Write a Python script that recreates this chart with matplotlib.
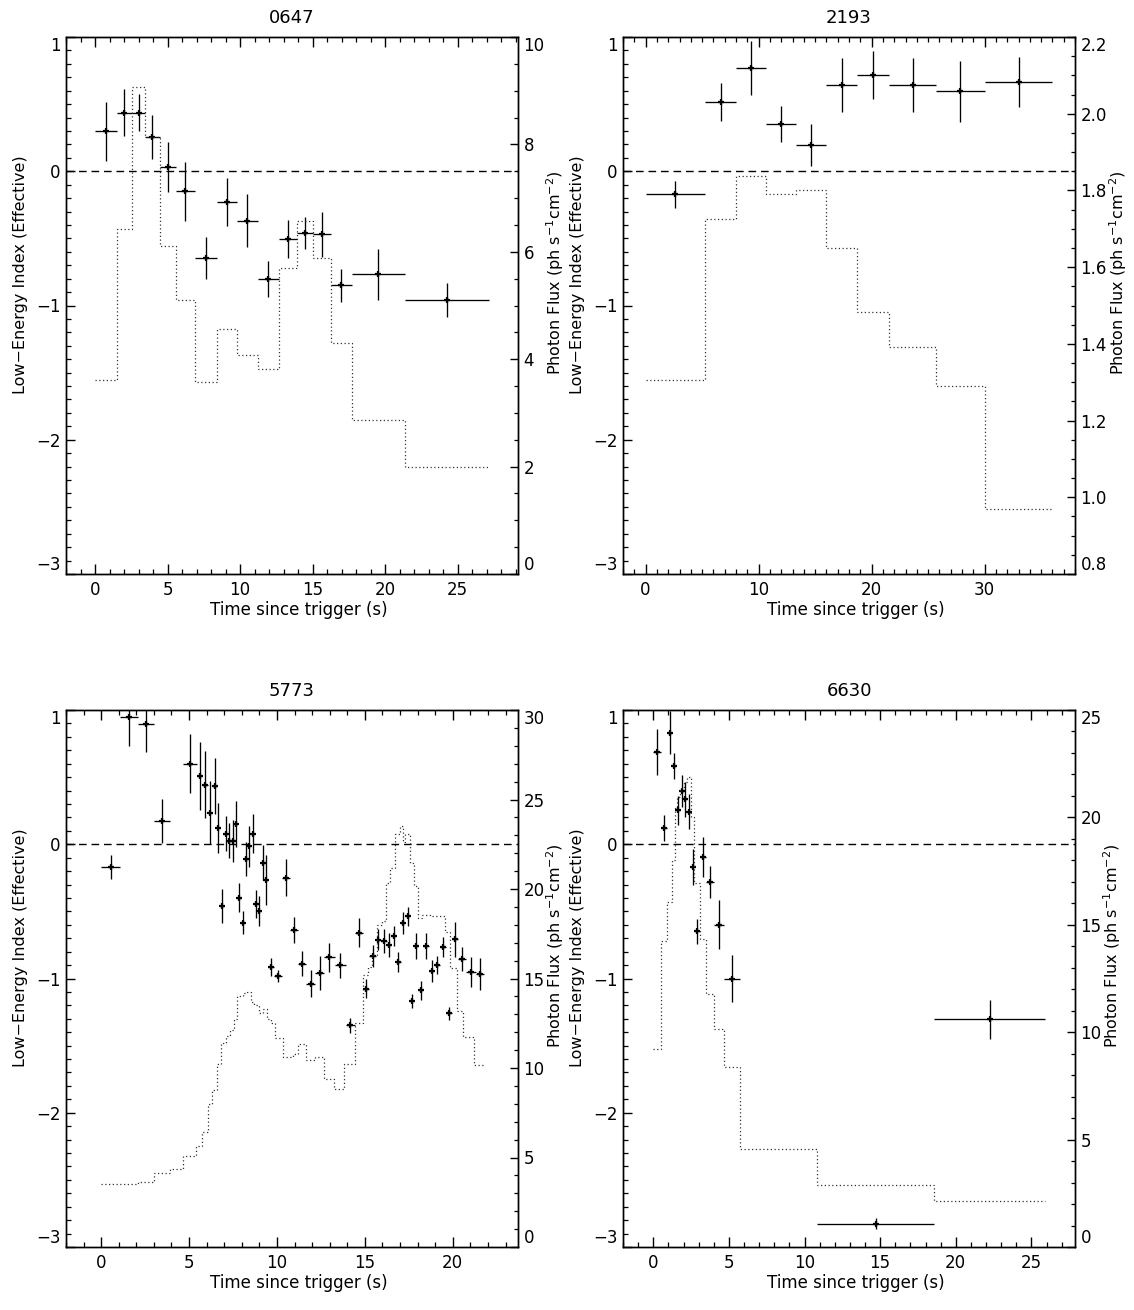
import numpy as np
import matplotlib
matplotlib.use("Agg")
import matplotlib.pyplot as plt
from matplotlib.ticker import MultipleLocator

plt.rcParams["font.family"] = ["DejaVu Sans"]
plt.rcParams["axes.linewidth"] = 1.0

# ---------------- 0647 ----------------
edges_0647 = [0, 1.51, 2.55, 3.47, 4.45, 5.55, 6.86, 8.40, 9.77, 11.22, 12.66,
              13.90, 15.05, 16.27, 17.71, 21.36, 27.16]
flux_0647 = [3.62, 6.42, 9.06, 8.13, 6.11, 5.11, 3.57, 4.57, 4.07, 3.82, 5.70,
             6.57, 5.88, 4.30, 2.87, 1.99]
index_0647 = [0.298, 0.435, 0.435, 0.253, 0.03, -0.149, -0.645, -0.228, -0.367,
              -0.806, -0.504, -0.459, -0.471, -0.849, -0.769, -0.96]
index_err_0647 = [0.22, 0.175, 0.137, 0.165, 0.186, 0.218, 0.156, 0.18, 0.195,
                  0.134, 0.142, 0.118, 0.165, 0.124, 0.19, 0.124]

# ---------------- 2193 ----------------
edges_2193 = [0, 5.27, 7.99, 10.62, 13.27, 15.96, 18.73, 21.56, 25.69, 30.03, 36.0]
flux_2193 = [1.306, 1.725, 1.838, 1.791, 1.802, 1.649, 1.482, 1.393, 1.291, 0.969]
index_2193 = [-0.171, 0.514, 0.770, 0.353, 0.194, 0.641, 0.715, 0.641, 0.596, 0.666]
index_err_2193 = [0.10, 0.14, 0.20, 0.134, 0.158, 0.20, 0.177, 0.20, 0.226, 0.188]

# ---------------- 5773 ----------------
index_edges_5773 = [0, 1.08, 2.09, 3.01, 3.89, 4.68, 5.44, 5.75, 6.07, 6.33, 6.57,
                    6.77, 6.98, 7.18, 7.4, 7.58, 7.75, 7.95, 8.13, 8.33, 8.52, 8.71,
                    8.91, 9.1, 9.3, 9.5, 9.85, 10.3, 10.75, 11.2, 11.65, 12.18, 12.68,
                    13.28, 13.9, 14.42, 14.9, 15.25, 15.62, 15.93, 16.25, 16.5, 16.77,
                    17.03, 17.3, 17.55, 17.8, 18.05, 18.33, 18.65, 18.95, 19.25, 19.6,
                    19.93, 20.3, 20.75, 21.3, 21.8]
index_5773 = [-0.17, 0.95, 0.899, 0.174, np.nan, 0.601, 0.507, 0.445, 0.236, 0.432,
              0.122, -0.46, 0.08, 0.025, 0.025, 0.149, -0.40, -0.584, -0.112, -0.015,
              0.08, -0.447, -0.497, -0.137, -0.268, -0.914, -0.981, -0.248, -0.636,
              -0.889, -1.038, -0.959, -0.84, -0.902, -1.349, -0.661, -1.076, -0.835,
              -0.71, -0.72, -0.753, -0.683, -0.877, -0.586, -0.537, -1.168, -0.76,
              -1.088, -0.76, -0.944, -0.902, -0.765, -1.26, -0.708, -0.852, -0.951,
              -0.969]
index_err_5773 = [0.091, 0.216, 0.211, 0.161, np.nan, 0.221, 0.253, 0.248, 0.232,
                  0.207, 0.186, 0.13, 0.134, 0.13, 0.155, 0.171, 0.108, 0.087, 0.128,
                  0.152, 0.143, 0.103, 0.109, 0.128, 0.186, 0.068, 0.043, 0.139,
                  0.097, 0.091, 0.099, 0.127, 0.108, 0.092, 0.057, 0.108, 0.07,
                  0.081, 0.08, 0.092, 0.089, 0.075, 0.071, 0.083, 0.072, 0.05, 0.097,
                  0.07, 0.097, 0.083, 0.067, 0.075, 0.05, 0.13, 0.089, 0.112, 0.12]
flux_edges_5773 = [0, 2.12, 3.01, 3.92, 4.64, 5.38, 5.73, 6.07, 6.33, 6.58, 6.81,
                   7.09, 7.34, 7.57, 7.75, 8.06, 8.29, 8.51, 8.7, 8.95, 9.2, 9.42,
                   9.65, 9.9, 10.33, 10.94, 11.22, 11.66, 12.17, 12.68, 13.25, 13.82,
                   14.45, 14.92, 15.15, 15.4, 15.68, 15.97, 16.21, 16.44, 16.72,
                   16.97, 17.16, 17.29, 17.54, 17.77, 18.0, 18.24, 18.71, 19.57,
                   19.85, 20.23, 20.61, 21.18, 21.71]
flux_5773 = [3.54, 3.63, 4.14, 4.33, 5.07, 5.65, 6.43, 7.98, 8.76, 10.25, 11.37,
             11.78, 12.15, 12.71, 14.01, 14.2, 14.25, 13.7, 13.51, 13.08, 13.27,
             12.71, 12.52, 11.7, 10.59, 10.77, 11.33, 10.44, 10.59, 9.41, 8.8, 10.21,
             12.5, 15.17, 15.66, 16.34, 18.01, 18.2, 20.36, 21.15, 23.1, 23.54,
             22.62, 23.1, 21.44, 20.17, 18.4, 18.54, 18.5, 17.62, 15.56, 13.21,
             11.74, 10.17]

# ---------------- 6630 ----------------
index_edges_6630 = [0, 0.53, 0.92, 1.25, 1.48, 1.76, 2.0, 2.25, 2.5, 2.72, 3.08,
                    3.47, 4.0, 4.7, 5.71, 10.82, 18.58, 25.88]
index_6630 = [0.688, 0.122, 0.83, 0.583, 0.253, 0.395, 0.335, 0.241, -0.169,
              -0.648, -0.094, -0.281, -0.599, -1.0, np.nan, -2.827, -1.304]
index_err_6630 = [0.174, 0.095, 0.16, 0.097, 0.11, 0.118, 0.13, 0.13, 0.137,
                  0.092, 0.15, 0.12, 0.184, 0.174, np.nan, 0.04, 0.145]
flux_edges_6630 = [0, 0.53, 0.92, 1.25, 1.42, 1.54, 1.76, 2.0, 2.25, 2.5, 2.72,
                   3.08, 3.47, 4.0, 4.7, 5.71, 10.82, 18.58, 25.88]
flux_6630 = [9.24, 14.24, 16.07, 18.04, 20.42, 20.96, 21.35, 21.63, 21.86, 20.03,
             16.93, 14.36, 11.8, 10.14, 8.38, 4.55, 2.87, 2.14]

INDEX_LABEL = "Low\u2212Energy Index (Effective)"
FLUX_LABEL = r"Photon Flux (ph s$^{-1}$cm$^{-2}$)"
TIME_LABEL = "Time since trigger (s)"

W, H = 1134, 1310
fig = plt.figure(figsize=(W / 100, H / 100), dpi=100)


def px_axes(left, top, right, bottom):
    return fig.add_axes([left / W, 1 - bottom / H, (right - left) / W, (bottom - top) / H])


def shift_end_labels(axis):
    """Pull the outermost tick labels inside the frame."""
    lo, hi = axis.get_view_interval()
    tol = 1e-6 * max(1, abs(hi - lo))
    for tick, loc in zip(axis.get_major_ticks(), axis.get_majorticklocs()):
        if abs(loc - lo) < tol:
            tick.label1.set_va("bottom")
            tick.label2.set_va("bottom")
        elif abs(loc - hi) < tol:
            tick.label1.set_va("top")
            tick.label2.set_va("top")


def panel(box, title, idx_edges, idx, idx_err, fl_edges, fl, fl_lim, fl_major,
          fl_minor, x_major):
    ax = px_axes(*box)
    e = np.asarray(idx_edges, float)
    v = np.asarray(idx, float)
    er = np.asarray(idx_err, float)
    mid = 0.5 * (e[:-1] + e[1:])
    half = 0.5 * np.diff(e)
    ok = ~np.isnan(v)
    ax.errorbar(mid[ok], v[ok], xerr=half[ok], yerr=er[ok], fmt="none",
                ecolor="k", elinewidth=0.95, capsize=0)
    ax.plot(mid[ok], v[ok], "+", color="k", ms=4, mew=1.6)
    ax.axhline(0, color="k", lw=1.0, ls=(0, (5.5, 3.5)))
    ax.set_xlim(-2, fl_edges[-1] + 2)
    ax.set_ylim(-3, 1)
    ax.xaxis.set_major_locator(MultipleLocator(x_major))
    ax.xaxis.set_minor_locator(MultipleLocator(1))
    ax.yaxis.set_major_locator(MultipleLocator(1))
    ax.yaxis.set_minor_locator(MultipleLocator(0.1))
    ax.tick_params(axis="x", which="both", direction="in", top=True, bottom=True,
                   labelsize=12, pad=5)
    ax.tick_params(axis="x", which="major", length=7.5, width=1.0)
    ax.tick_params(axis="x", which="minor", length=3.5, width=0.9)
    ax.tick_params(axis="y", which="both", direction="in", left=True, right=False,
                   labelsize=12, pad=4)
    ax.tick_params(axis="y", which="major", length=6.5, width=1.0)
    ax.tick_params(axis="y", which="minor", length=3.4, width=0.9)
    ax.set_xlabel(TIME_LABEL, fontsize=12, labelpad=1.5)
    ax.xaxis.label.set_x(0.515)
    ax.set_ylabel(INDEX_LABEL, fontsize=11.5, labelpad=6)
    ax.yaxis.label.set_y(0.557)
    ax.set_title(title, fontsize=13, pad=10)

    ax2 = ax.twinx()
    ax2.stairs(fl, fl_edges, baseline=None, color="0.2", lw=0.9, ls=(0, (1, 2)))
    ax2.set_ylim(*fl_lim)
    ax2.yaxis.set_major_locator(MultipleLocator(fl_major))
    ax2.yaxis.set_minor_locator(MultipleLocator(fl_minor))
    ax2.tick_params(axis="y", which="both", direction="in", right=True,
                    labelsize=12, pad=4)
    ax2.tick_params(axis="y", which="major", length=6, width=1.0)
    ax2.tick_params(axis="y", which="minor", length=3.2, width=0.9)
    ax2.set_ylabel(FLUX_LABEL, fontsize=11.5, labelpad=0)
    ax2.yaxis.label.set_y(0.562)
    return ax, ax2


axes = []
axes.append(panel((66, 37, 518, 574), "0647", edges_0647, index_0647, index_err_0647,
                  edges_0647, flux_0647, (0, 10), 2, 0.5, 5))
axes.append(panel((623, 37, 1075, 574), "2193", edges_2193, index_2193, index_err_2193,
                  edges_2193, flux_2193, (0.8, 2.2), 0.2, 0.05, 10))
axes.append(panel((66, 710, 518, 1247), "5773", index_edges_5773, index_5773,
                  index_err_5773, flux_edges_5773, flux_5773, (0, 30), 5, 1, 5))
axes.append(panel((623, 710, 1075, 1247), "6630", index_edges_6630, index_6630,
                  index_err_6630, flux_edges_6630, flux_6630, (0, 25), 5, 1, 5))

fig.canvas.draw()
for ax, ax2 in axes:
    shift_end_labels(ax.yaxis)
    shift_end_labels(ax2.yaxis)

fig.savefig("out.png", dpi=100)
